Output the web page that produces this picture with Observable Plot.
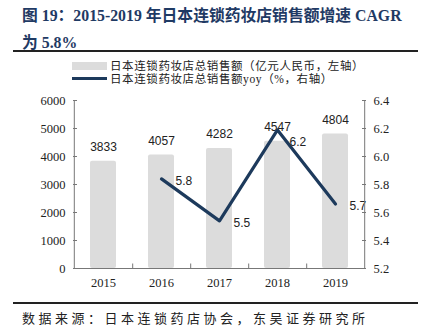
<!DOCTYPE html>
<html><head><meta charset="utf-8">
<script src="https://cdn.jsdelivr.net/npm/d3@7"></script>
<script src="https://cdn.jsdelivr.net/npm/@observablehq/plot@0.6"></script>
<style>
body{margin:0;background:#fff;width:425px;height:336px;overflow:hidden;position:relative;}
#title{position:absolute;left:22px;top:2px;width:410px;white-space:nowrap;font-family:"Liberation Serif","Noto Sans CJK SC",serif;font-weight:bold;font-size:15.8px;line-height:27px;color:#1f3a64;}
#rule1{position:absolute;left:13px;top:50px;width:405px;height:2px;background:#222;}
#legend{position:absolute;left:72px;top:60px;font-family:"Liberation Serif","Noto Sans CJK SC",serif;font-size:11.5px;color:#222;line-height:12px;letter-spacing:0.6px;}
.lg{display:flex;align-items:center;height:12.5px;}
.sw1{width:35px;height:8px;background:#dcdcdc;margin-right:3px;}
.sw2{width:35px;height:3px;background:#1d3a5c;margin-right:3px;}
#chart{position:absolute;left:0;top:88px;}
#rule2{position:absolute;left:13px;top:302px;width:405px;height:2px;background:#222;}
#caption{position:absolute;left:22px;top:308px;font-family:"Noto Sans CJK SC",sans-serif;font-size:13px;letter-spacing:3.5px;color:#222;}
</style></head>
<body>
<div id="title">图 19：2015-2019 年日本连锁药妆店销售额增速 CAGR<br>为 5.8%</div>
<div id="rule1"></div>
<div id="legend">
<div class="lg"><div class="sw1"></div>日本连锁药妆店总销售额（亿元人民币，左轴）</div>
<div class="lg"><div class="sw2"></div>日本连锁药妆店总销售额yoy（%，右轴）</div>
</div>
<div id="chart"></div>
<div id="rule2"></div>
<div id="caption">数据来源：日本连锁药店协会，东吴证券研究所</div>
<script>
const years = ["2015","2016","2017","2018","2019"];
const sales = [3833, 4057, 4282, 4547, 4804];
const yoyYears = ["2016","2017","2018","2019"];
const yoy = [5.84, 5.54, 6.19, 5.66];
const leftTicks = [0,1000,2000,3000,4000,5000,6000];
const rightTicks = [5.2,5.4,5.6,5.8,6.0,6.2,6.4];

const rMin = 5.2, rMax = 6.4, lMax = 6000;
const toLeft = v => (v - rMin) / (rMax - rMin) * lMax;

const barData = years.map((y,i)=>({year:y, v:sales[i]}));
const lineData = yoyYears.map((y,i)=>({year:y, v:yoy[i], ly: toLeft(yoy[i])}));

const serif = "'Liberation Serif','Times New Roman',serif";
const sans = "'Liberation Sans',Arial,sans-serif";
const half = 29.2;

const chart = Plot.plot({
  width: 425, height: 212,
  marginLeft: 73, marginRight: 60, marginTop: 12, marginBottom: 32,
  style: {fontFamily: serif, fontSize: "12.5px", color: "#222", background: "transparent"},
  x: {type: "band", domain: years, paddingInner: 0.555, paddingOuter: 0.2775, axis: null},
  y: {domain: [0, lMax], axis: null},
  marks: [
    Plot.barY(barData, {x: "year", y: "v", fill: "#dcdcdc", rx: 2}),
    Plot.text(barData, {x: "year", y: "v", text: d => String(d.v), dy: -14, fontFamily: sans, fontSize: 12, fill: "#222"}),
    Plot.line(lineData, {x: "year", y: "ly", stroke: "#1d3a5c", strokeWidth: 3.2}),
    Plot.text(lineData.filter(d => d.year !== "2018"), {x: "year", y: "ly", text: d => d.v.toFixed(1), dx: 14, dy: 2, textAnchor: "start", fontFamily: sans, fontSize: 12, fill: "#222"}),
    Plot.text(lineData.filter(d => d.year === "2018"), {x: "year", y: "ly", text: d => d.v.toFixed(1), dx: 12, dy: 12, textAnchor: "start", fontFamily: sans, fontSize: 12, fill: "#222"}),
    Plot.ruleX(years.slice(0, 1), {x: d => d, dx: -half, y1: 0, y2: lMax, stroke: "#777"}),
    Plot.ruleX(years.slice(-1), {x: d => d, dx: half, y1: 0, y2: lMax, stroke: "#777"}),
    Plot.axisY(leftTicks, {anchor: "left", tickSize: -4, tickPadding: 12, tickFormat: d => String(d), stroke: "#777", fontFamily: serif, fontSize: 12.5, fill: "#222", label: null}),
    Plot.axisY(rightTicks.map(toLeft), {anchor: "right", tickSize: -4, tickPadding: 12, tickFormat: v => (rMin + v / lMax * (rMax - rMin)).toFixed(1), stroke: "#777", fontFamily: serif, fontSize: 12.5, fill: "#222", label: null}),
    Plot.ruleY([0], {stroke: "#777"}),
    Plot.ruleX(years.slice(0, -1), {x: d => d, dx: half, y1: 0, y2: 160, stroke: "#777"}),
    Plot.axisX({tickSize: 0, tickPadding: 10, fontFamily: serif, fontSize: 12.5, fill: "#222", label: null})
  ]
});
document.getElementById("chart").appendChild(chart);
</script>
</body></html>
